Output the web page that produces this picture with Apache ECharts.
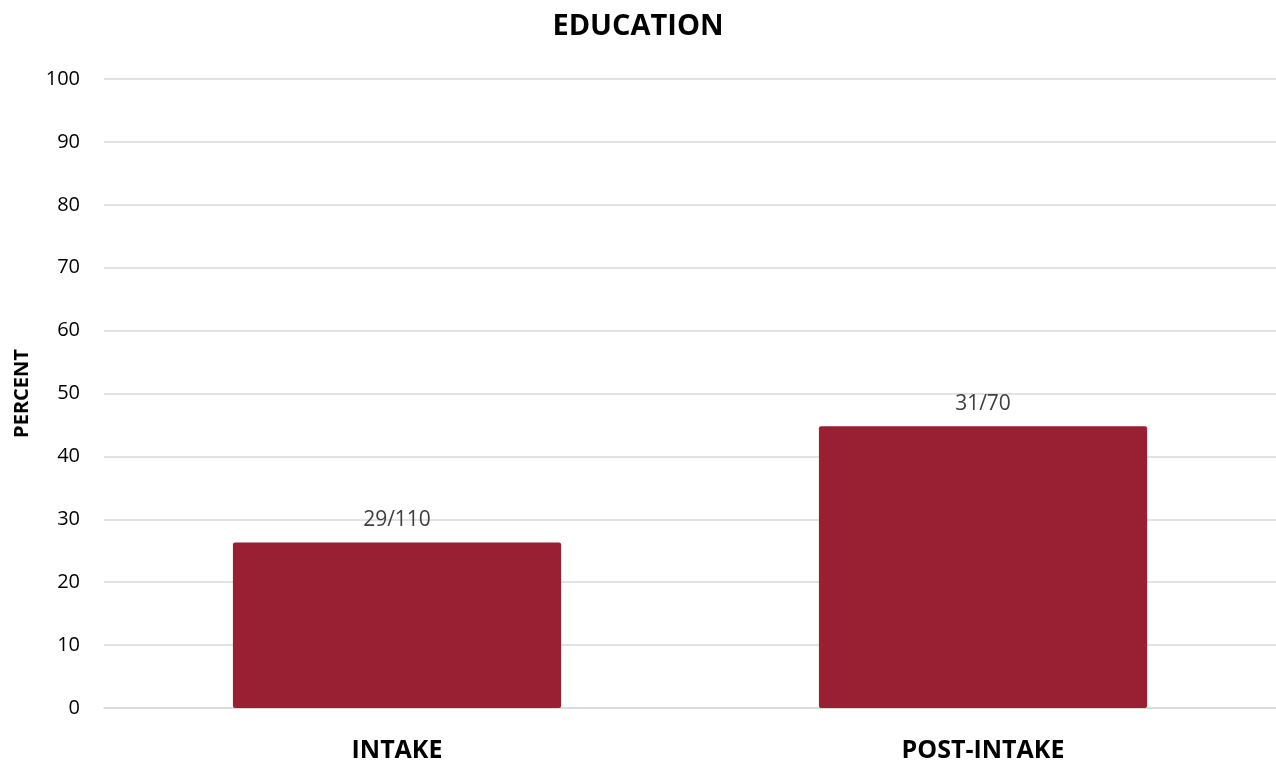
<!DOCTYPE html>
<html><head><meta charset="utf-8">
<script src="https://cdn.jsdelivr.net/npm/echarts@6/dist/echarts.min.js"></script>
<style>html,body{margin:0;padding:0;background:#fff}#c{width:1276px;height:765px}</style>
</head><body><div id="c"></div>
<script>
var categories = ['INTAKE', 'POST-INTAKE'];
var values = [26.3, 44.8];
var labels = ['29/110', '31/70'];
var yTicks = [0, 10, 20, 30, 40, 50, 60, 70, 80, 90, 100];

var chart = echarts.init(document.getElementById('c'));
var font = '"Open Sans", "Liberation Sans", sans-serif';
chart.setOption({
  animation: false,
  title: {text: 'EDUCATION', left: 'center', top: 7,
    textStyle: {fontFamily: font, fontSize: 29, fontWeight: 'bold', color: '#000'}},
  grid: {left: 104, right: 0, top: 79, bottom: 57, outerBoundsMode: 'none', containLabel: false},
  xAxis: {type: 'category', data: categories,
    axisLine: {lineStyle: {color: '#d9d9d9', width: 1.5}}, axisTick: {show: false},
    axisLabel: {margin: 30, fontFamily: font, fontSize: 25, fontWeight: 'bold', color: '#000'}},
  yAxis: {type: 'value', min: 0, max: 100, interval: 10,
    name: 'PERCENT', nameLocation: 'middle', nameGap: 72, nameRotate: 90,
    nameTextStyle: {fontFamily: font, fontSize: 20, fontWeight: 'bold', color: '#000'},
    axisLine: {show: false}, axisTick: {show: false},
    axisLabel: {margin: 24, fontFamily: font, fontSize: 20, color: '#000',
      formatter: function (v) { return yTicks.indexOf(v) >= 0 ? String(v) : ''; }},
    splitLine: {lineStyle: {color: '#d9d9d9', width: 1.5}}},
  series: [{type: 'bar', data: values, barWidth: '56%',
    itemStyle: {color: '#991F33', borderRadius: 2},
    label: {show: true, position: 'top', distance: 12, fontFamily: font, fontSize: 21, color: '#404040',
      formatter: function (p) { return labels[p.dataIndex]; }}}]
});
</script></body></html>
